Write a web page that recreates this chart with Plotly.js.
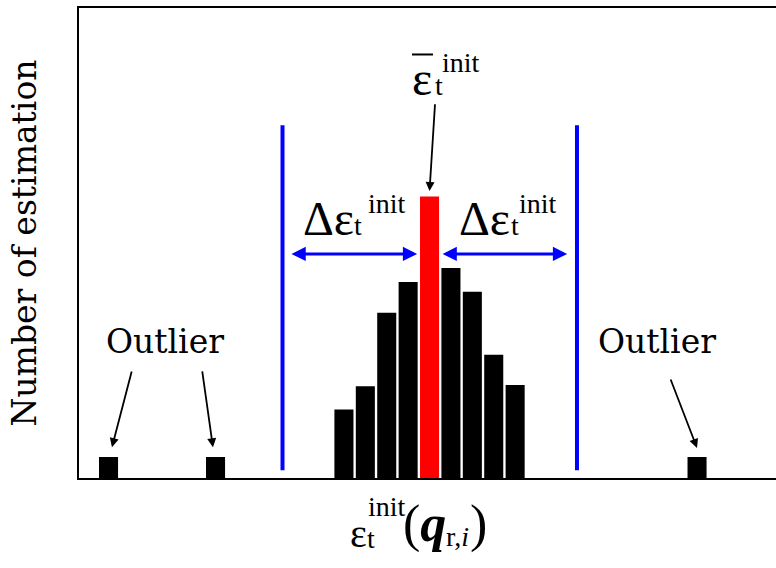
<!DOCTYPE html>
<html>
<head>
<meta charset="utf-8">
<script src="https://cdn.plot.ly/plotly-3.0.1.min.js"></script>
<style>
  html, body { margin: 0; padding: 0; background: #fff; }
  #chart { width: 776px; height: 568px; }
</style>
</head>
<body>
<div id="chart"></div>
<script>
// Histogram of initial estimates, binned relative to the mean bin (bin 0)
const binPositions = [-15, -10, -4, -3, -2, -1, 1, 2, 3, 4, 12.5];
const binCounts    = [3, 3, 9.8, 13.1, 23.6, 28, 30, 26.6, 17.6, 13.3, 3];
const meanBin      = [0];
const meanCount    = [40.2];

// Acceptance band: mean -/+ delta
const bandBounds   = [-6.87, 6.89];
const bandSpan     = [1.1, 50.4];

// Outliers that fall outside the band
const outlierBins   = [-15, -10, 12.5];
const outlierCounts = [3, 3, 3];

const BLUE = '#0000ff';
const RED = '#ff0000';
const mathFamily = 'Liberation Serif, Times New Roman, serif';
const textFamily = 'DejaVu Serif, serif';

const traces = [
  {
    type: 'bar', x: binPositions, y: binCounts, width: 0.89,
    marker: { color: '#000000', line: { width: 0 } },
    hoverinfo: 'skip', showlegend: false
  },
  {
    type: 'bar', x: meanBin, y: meanCount, width: 0.89,
    marker: { color: RED, line: { width: 0 } },
    hoverinfo: 'skip', showlegend: false
  }
];

// Band limits as vertical blue lines
bandBounds.forEach(b => {
  traces.push({
    type: 'scatter', mode: 'lines', x: [b, b], y: bandSpan,
    line: { color: BLUE, width: 4 }, hoverinfo: 'skip', showlegend: false
  });
});

function txt(text, x, y, size, family, yref) {
  return {
    text: text, x: x, y: y, xref: 'x', yref: yref || 'y',
    xanchor: 'center', yanchor: 'middle', showarrow: false,
    font: { family: family || mathFamily, size: size, color: '#000' }
  };
}

function arrow(x, y, ax, ay, color, width, size, both) {
  return {
    text: '', x: x, y: y, ax: ax, ay: ay, xref: 'x', yref: 'y', axref: 'x', ayref: 'y',
    showarrow: true, arrowhead: 2, arrowsize: size, arrowwidth: width,
    arrowcolor: color, arrowside: both ? 'end+start' : 'end', standoff: 0, startstandoff: 0
  };
}

const annotations = [
  // mean label
  txt('ε', -0.33, 57.03, 48),
  txt('t', 0.44, 56.06, 28),
  txt('init', 1.47, 59.35, 28),
  arrow(meanBin[0], meanCount[0] + 0.8, 0.26, 53.6, '#000', 1.8, 1, false),

  // delta labels
  txt('Δε', -4.74, 37.03, 48),
  txt('t', -3.32, 36.06, 28),
  txt('init', -2.01, 39.21, 28),
  txt('Δε', 2.59, 37.03, 48),
  txt('t', 4.0, 36.06, 28),
  txt('init', 5.07, 39.21, 28),
  arrow(-0.58, 32, -6.52, 32, BLUE, 3, 0.95, true),
  arrow(6.43, 32, 0.54, 32, BLUE, 3, 0.95, true),

  // outlier labels
  txt('Outlier', -12.36, 19.49, 33, textFamily),
  txt('Outlier', 10.63, 19.49, 33, textFamily),
  arrow(-14.84, outlierCounts[0] + 1.4, -13.9, 15.43, '#000', 1.8, 1, false),
  arrow(-10.12, outlierCounts[1] + 1.4, -10.63, 15.43, '#000', 1.8, 1, false),
  arrow(outlierBins[2], outlierCounts[2] + 1.3, 11.24, 14.29, '#000', 1.8, 1, false),

  // horizontal axis label
  txt('ε', -3.3, -0.118, 40, mathFamily, 'paper'),
  txt('t', -2.74, -0.1287, 28, mathFamily, 'paper'),
  txt('init', -1.98, -0.0596, 28, mathFamily, 'paper'),
  txt('(<b><i>q</i></b>', -0.23, -0.0988, 52, mathFamily, 'paper'),
  txt('r,<i>i</i>', 1.31, -0.1245, 28, mathFamily, 'paper'),
  txt(')', 2.27, -0.0988, 52, mathFamily, 'paper')
];

const layout = {
  width: 776, height: 568,
  margin: { l: 79, r: 0, t: 8, b: 90, pad: 0 },
  paper_bgcolor: '#fff', plot_bgcolor: '#fff',
  barmode: 'overlay',
  showlegend: false,
  xaxis: {
    range: [-16.38, 16.19], showticklabels: false, ticks: '', showgrid: false,
    zeroline: false, showline: true, linecolor: '#000', linewidth: 2, mirror: true,
    fixedrange: true
  },
  yaxis: {
    range: [0, 67.14], showticklabels: false, ticks: '', showgrid: false,
    zeroline: false, showline: true, linecolor: '#000', linewidth: 2, mirror: false,
    fixedrange: true,
    title: { text: 'Number of estimation', standoff: 30,
             font: { family: textFamily, size: 33, color: '#000' } }
  },
  shapes: [
    // bar over the mean symbol
    { type: 'line', xref: 'x', yref: 'y', x0: -0.82, x1: 0.16, y0: 60.5, y1: 60.5,
      line: { color: '#000', width: 2 } }
  ],
  annotations: annotations
};

Plotly.newPlot('chart', traces, layout, { displayModeBar: false, staticPlot: true });
</script>
</body>
</html>
